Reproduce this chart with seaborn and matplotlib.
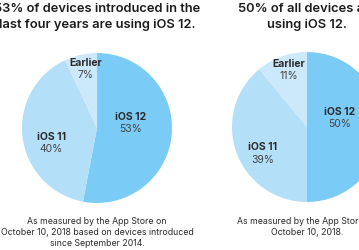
import matplotlib
matplotlib.use('Agg')
import matplotlib.pyplot as plt
import seaborn as sns

# iOS adoption, App Store, October 10, 2018
versions = ['iOS 12', 'iOS 11', 'Earlier']
share_recent = [53, 40, 7]    # devices introduced in the last four years
share_all = [50, 39, 11]      # all devices

titles = ['53% of devices introduced in the\nlast four years are using iOS 12.',
          '50% of all devices are\nusing iOS 12.']
notes = ['As measured by the App Store on\nOctober 10, 2018 based on devices introduced\nsince September 2014.',
         'As measured by the App Store on\nOctober 10, 2018.']

sns.set_theme(style='white')
plt.rcParams['font.family'] = ['Inter', 'DejaVu Sans']

palette = ['#7bcbf7', '#b3dff9', '#cbe9fb']
text_dark = '#2b2b2b'

W, H = 359, 250
fig = plt.figure(figsize=(W / 100, H / 100), dpi=100)
fig.patch.set_facecolor('white')

# pie centres in pixels (radius 75), label anchors in pie units
centres = [(97, 128), (307, 127)]
R = 75
label_xy = [
    [(0.45, 0.07), (-0.61, -0.20), (-0.15, 0.79)],
    [(0.44, 0.12), (-0.59, -0.35), (-0.24, 0.76)],
]

for k, (vals, title, note) in enumerate(zip([share_recent, share_all], titles, notes)):
    cx, cy = centres[k]
    ax = fig.add_axes([(cx - R) / W, (H - cy - R) / H, 2 * R / W, 2 * R / H])
    ax.pie(vals, colors=palette, startangle=90, counterclock=False,
           wedgeprops=dict(linewidth=0))
    ax.set_xlim(-1, 1)
    ax.set_ylim(-1, 1)
    ax.set_aspect('equal')
    ax.axis('off')

    for name, v, (lx, ly) in zip(versions, vals, label_xy[k]):
        ax.text(lx, ly + 0.08, name, ha='center', va='center',
                fontsize=7.5, fontweight='bold', color=text_dark)
        ax.text(lx, ly - 0.085, f'{v}%', ha='center', va='center',
                fontsize=7.5, color='#444444')

    fig.text(cx / W, 1 - 17 / H, title, ha='center', va='center',
             fontsize=9.3, fontweight='semibold', color='#1d1d1f',
             linespacing=1.45)
    fig.text(cx / W, 1 - 217 / H, note, ha='center', va='top',
             fontsize=6.3, color=text_dark, linespacing=1.3)

fig.savefig('out.png', dpi=100)
